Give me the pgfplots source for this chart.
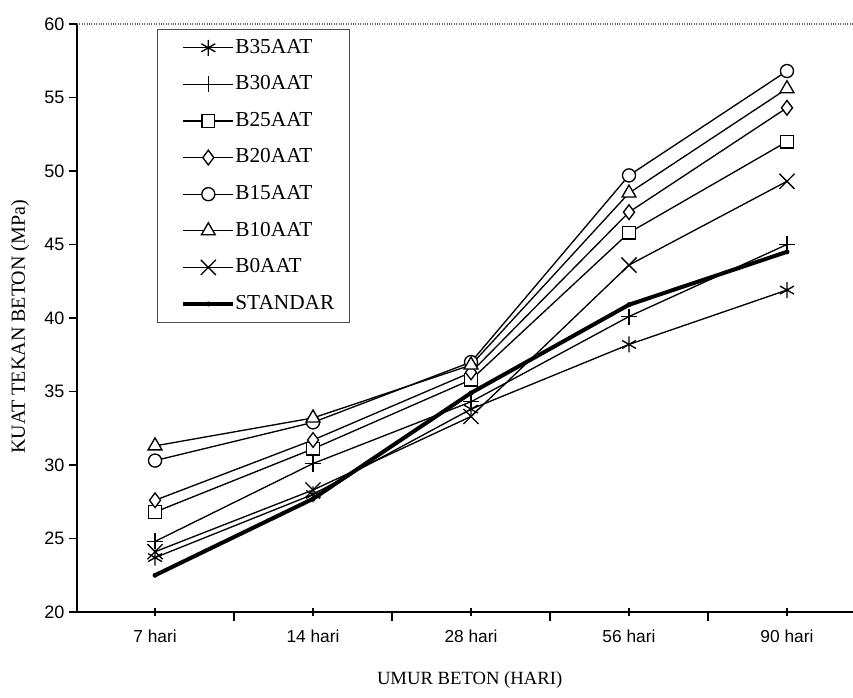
\documentclass[border=0pt]{standalone}
\usepackage{fontspec}
\setmainfont{Liberation Serif}
\newfontfamily\sansf{Liberation Sans}
\usepackage{pgfplots}
\pgfplotsset{compat=1.18}

\pgfplotsset{
  mk/.style={line width=1pt, black, mark options={solid, fill=white, line width=1pt}},
  limg/.style={legend image code/.code={
      \path (-7pt,0pt);
      \draw[##1, mark repeat=2, mark phase=2] plot coordinates {(0pt,0pt) (18.75pt,0pt) (37.5pt,0pt)};}},
}

\begin{document}
\begin{tikzpicture}
\begin{axis}[
    scale only axis,
    width=582pt, height=441pt,
    xmin=-0.494, xmax=4.418,
    ymin=20, ymax=60,
    axis x line*=bottom, axis y line*=left,
    x axis line style={-, line width=2.2pt},
    y axis line style={-, line width=2.2pt},
    xtick={0,1,2,3,4},
    xticklabels={7 hari, 14 hari, 28 hari, 56 hari, 90 hari},
    minor xtick={0.5,1.5,2.5,3.5},
    ytick={20,25,...,60},
    tick align=outside,
    major tick length=6pt,
    minor tick length=7pt,
    every tick/.style={black, line width=1.2pt},
    every major x tick/.append style={yshift=3pt},
    x tick label style={font=\fontsize{13}{15}\selectfont\sansf, yshift=-4pt},
    y tick label style={font=\fontsize{13.5}{15}\selectfont\sansf},
    /pgf/number format/assume math mode=true,
    xlabel={UMUR BETON (HARI)},
    ylabel={KUAT TEKAN BETON (MPa)},
    xlabel style={font=\fontsize{14}{16}\selectfont, at={(axis description cs:0.506,-0.1156)}, anchor=center},
    ylabel style={font=\fontsize{15}{17}\selectfont, at={(axis description cs:-0.0735,0.485)}, anchor=center},
    legend cell align=left,
    legend style={
        at={(0.103,0.9915)}, anchor=north west,
        draw=black!70, line width=0.6pt,
        inner xsep=11pt, inner ysep=6.8pt,
        row sep=13.45pt,
        font=\fontsize{16}{18}\selectfont,
        nodes={inner sep=0pt, text height=11pt, text depth=3pt},
        /tikz/every even column/.append style={column sep=4pt},
    },
    limg,
]
\draw[densely dotted, black!60, line width=0.8pt] (rel axis cs:0,1) -- (rel axis cs:1,1);

\addplot[mk, mark=asterisk, mark size=6pt] coordinates {(0,23.7) (1,28.0) (2,33.8) (3,38.2) (4,41.9)};
\addlegendentry{B35AAT}
\addplot[mk, mark=+, mark size=6pt] coordinates {(0,24.8) (1,30.1) (2,34.3) (3,40.1) (4,45.0)};
\addlegendentry{B30AAT}
\addplot[mk, mark=square*, mark size=4.7pt] coordinates {(0,26.8) (1,31.1) (2,35.8) (3,45.8) (4,52.0)};
\addlegendentry{B25AAT}
\addplot[mk, mark=diamond*, mark size=5.5pt] coordinates {(0,27.6) (1,31.7) (2,36.3) (3,47.2) (4,54.3)};
\addlegendentry{B20AAT}
\addplot[mk, mark=*, mark size=4.9pt] coordinates {(0,30.3) (1,32.9) (2,37.0) (3,49.7) (4,56.8)};
\addlegendentry{B15AAT}
\addplot[mk, mark=triangle*, mark size=6pt] coordinates {(0,31.3) (1,33.2) (2,36.8) (3,48.5) (4,55.6)};
\addlegendentry{B10AAT}
\addplot[mk, mark=x, mark size=8pt] coordinates {(0,24.1) (1,28.3) (2,33.3) (3,43.6) (4,49.3)};
\addlegendentry{B0AAT}
\addplot[black, line width=3pt, mark=*, mark size=1.6pt, mark options={solid, fill=black, line width=0.5pt}] coordinates {(0,22.5) (1,27.7) (2,34.9) (3,40.9) (4,44.5)};
\addlegendentry{STANDAR}
\end{axis}
\pgfresetboundingbox
\path[use as bounding box] (-57.75pt,-64.5pt) rectangle (582pt,459pt);
\end{tikzpicture}
\end{document}
